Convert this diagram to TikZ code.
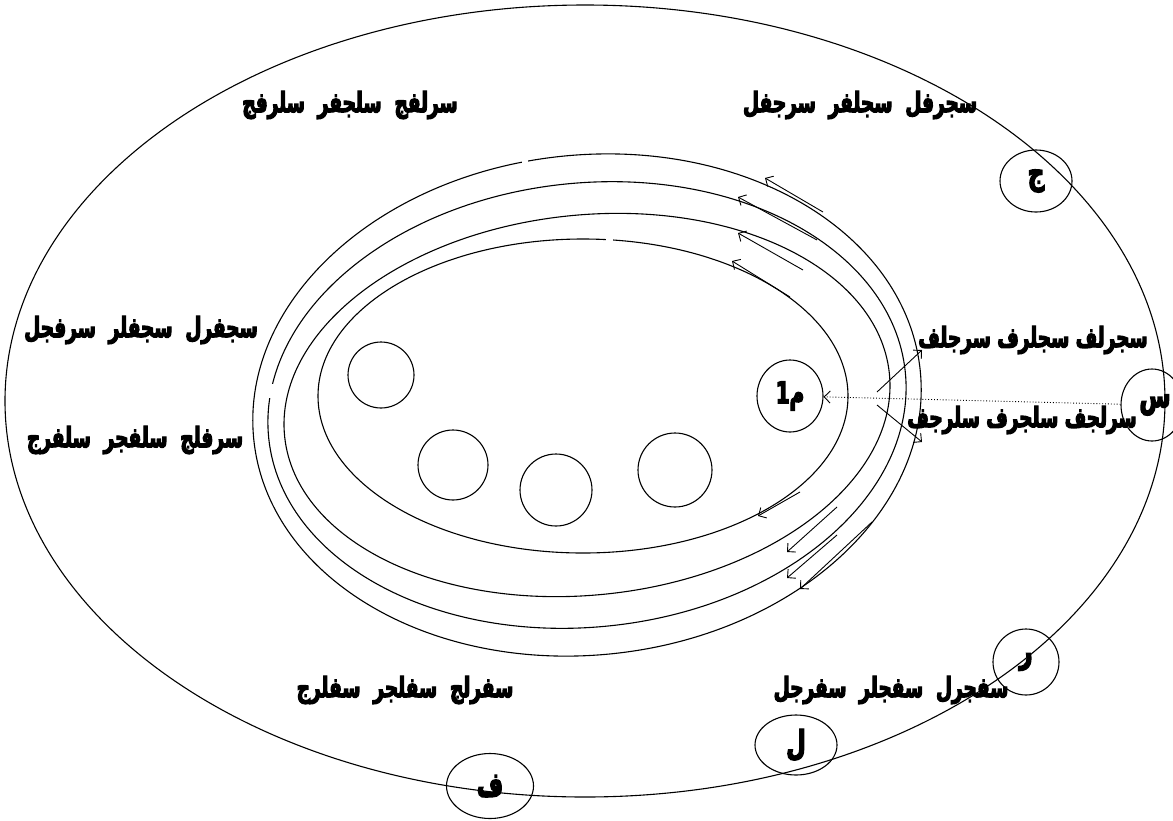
\documentclass[tikz,border=0pt]{standalone}
\usepackage{fontspec}
\usetikzlibrary{shapes.geometric,arrows.meta}
\newfontfamily\arabicfont[Script=Arabic, FakeStretch=0.66, FakeBold=4]{DejaVu Sans Bold}
\TeXXeTstate=1
\newcommand{\ar}[1]{\arabicfont\beginR #1\endR}
\begin{document}
\begin{tikzpicture}[x=1pt,y=-1pt,line width=1.1pt,
  lbl/.style={font=\fontsize{28}{32}\selectfont, inner sep=0pt},
  ltr/.style={draw, ellipse, inner sep=0pt, font=\fontsize{34}{38}\selectfont},
  ball/.style={draw, circle, inner sep=0pt},
  arr/.style={-{Straight Barb[length=6pt,width=12pt]}, line width=0.9pt},
  gap/.style={fill=white, draw=none}]
\useasboundingbox (0,0) rectangle (1173,820);
% outer ellipse
\draw (585,401) ellipse [x radius=580pt, y radius=396pt];
% inner ellipses (slightly tilted)
\coordinate (ic) at (587,405);
\draw[rotate around={6:(ic)}] (ic) ellipse [x radius=335pt, y radius=250pt];
\draw[rotate around={6:(ic)}] (ic) ellipse [x radius=320pt, y radius=222pt];
\draw[rotate around={6:(ic)}] (ic) ellipse [x radius=304pt, y radius=190pt];
\draw (583,396) ellipse [x radius=265pt, y radius=157pt];
% gaps
\fill[gap] (522,150) rectangle (528,172);
\fill[gap] (606,232) rectangle (613,248);
\fill[gap] (260,384) rectangle (276,398);
% small circles
\node[ball, minimum size=66pt] (c1) at (381,375) {};
\node[ball, minimum size=70pt] (c2) at (453,465) {};
\node[ball, minimum size=72pt] (c3) at (556,490) {};
\node[ball, minimum size=74pt] (c4) at (675,470) {};
\node[ltr, minimum width=66pt, minimum height=72pt, font=\fontsize{30}{34}\selectfont] (m1) at (790,396) {\raisebox{-9pt}{\mbox{\arabicfont 1}\mbox{\arabicfont م}}};
% letter ellipses
\node[ltr, minimum width=72pt, minimum height=62pt] (j) at (1036,181) {\raisebox{-6pt}{\ar{ج}}};
\node[ltr, minimum width=62pt, minimum height=72pt] (s) at (1152,405) {\hspace*{6pt}\ar{س}};
\node[ltr, minimum width=66pt, minimum height=66pt] (r) at (1026,662) {\ar{ر}};
\node[ltr, minimum width=82pt, minimum height=60pt] (l) at (796,745) {\ar{ل}};
\node[ltr, minimum width=87pt, minimum height=65pt] (f) at (490,786) {\ar{ف}};
% labels
\node[lbl] (t1) at (350,105) {\ar{سرلفج\ \ سلجفر\ \ سلرفج}};
\node[lbl] (t2) at (860,105) {\ar{سجرفل\ \ سجلفر\ \ سرجفل}};
\node[lbl] (t3) at (141,330) {\ar{سجفرل\ \ سجفلر\ \ سرفجل}};
\node[lbl] (t4) at (135,440) {\ar{سرفلج\ \ سلفجر\ \ سلفرج}};
\node[lbl] (t5) at (1033,340) {\ar{سجرلف سجلرف سرجلف}};
\node[lbl] (t6) at (1022,420) {\ar{سرلجف سلجرف سلرجف}};
\node[lbl] (t7) at (405,690) {\ar{سفرلج\ \ سفلجر\ \ سفلرج}};
\node[lbl] (t8) at (891,690) {\ar{سفجرل\ \ سفجلر\ \ سفرجل}};
% dotted arrow
\draw[arr, dotted, line width=0.9pt] (s) -- (m1);
% split arrows
\coordinate (sp1) at (877,392);
\coordinate (sp2) at (877,405);
\coordinate (e1) at (922,350);
\coordinate (e2) at (922,442);
\draw[arr] (sp1) -- (e1);
\draw[arr] (sp2) -- (e2);
% top arrows
\coordinate (a1s) at (823,212); \coordinate (a1e) at (765,178);
\coordinate (a2s) at (817,240); \coordinate (a2e) at (738,197);
\coordinate (a3s) at (803,270); \coordinate (a3e) at (738,233);
\coordinate (a4s) at (790,297); \coordinate (a4e) at (732,261);
\draw[arr] (a1s) -- (a1e);
\draw[arr] (a2s) -- (a2e);
\draw[arr] (a3s) -- (a3e);
\draw[arr] (a4s) -- (a4e);
% bottom arrows
\coordinate (b1s) at (800,492); \coordinate (b1e) at (758,516);
\coordinate (b2s) at (837,507); \coordinate (b2e) at (787,552);
\coordinate (b3s) at (837,535); \coordinate (b3e) at (787,578);
\coordinate (b4s) at (872,522); \coordinate (b4e) at (800,589);
\draw[arr] (b1s) -- (b1e);
\draw[arr] (b2s) -- (b2e);
\draw[arr] (b3s) -- (b3e);
\draw[arr] (b4s) -- (b4e);
\end{tikzpicture}
\end{document}
